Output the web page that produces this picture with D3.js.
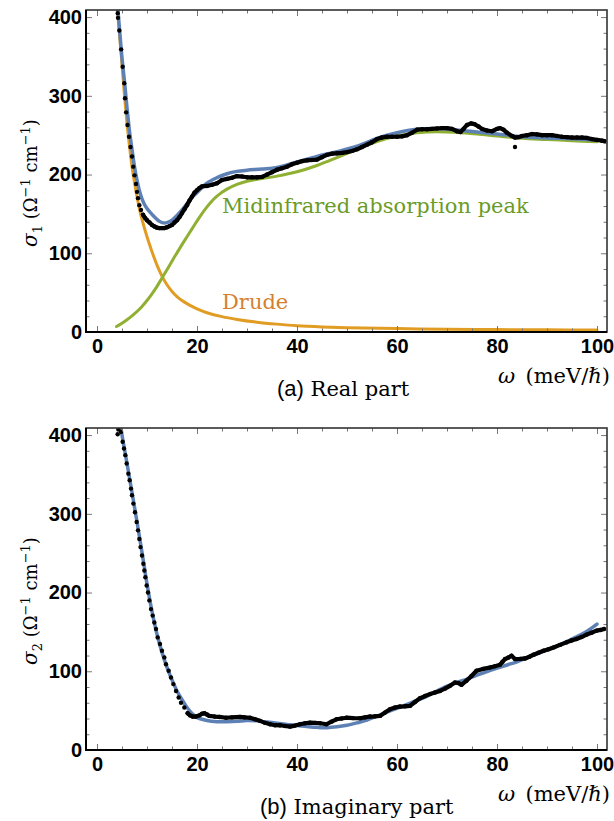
<!DOCTYPE html>
<html lang="en">
<head>
  <meta charset="UTF-8">
  <title>Optical conductivity</title>
  <script src="https://cdn.jsdelivr.net/npm/d3@7"></script>
  <style type="text/css" media="all">
    body { margin: 0; background: #fff; }
    .tick text {
      font-family: "Liberation Sans", Arial, sans-serif;
      font-weight: bold;
      font-size: 20px;
      fill: #000;
    }
    .tick line { stroke: #777; }
  </style>
</head>
<body>
  <svg id="chart" width="614" height="821"></svg>
  <script>
    // axis ticks
    var xTicks = [0, 20, 40, 60, 80, 100];
    var yTicks = [0, 100, 200, 300, 400];

    // (a) real part: measured sigma_1
    var realW = [4.15, 4.2, 4.47, 4.83, 5.13, 5.45, 5.6, 5.83, 6.1, 6.4, 6.7, 7.0, 7.25, 7.5, 7.8, 8.0, 8.2, 8.47, 8.8,
      9.2, 9.6, 10, 10.5, 11, 11.5, 12, 12.5, 13, 13.5, 14, 14.5, 15, 15.5, 16, 16.5, 17, 17.5, 18, 18.5, 19, 19.5,
      20, 20.5, 21, 22, 23, 24, 25, 26, 27, 28, 29, 30, 31, 32, 33, 34, 35, 36, 37, 38, 39, 40, 41, 42, 43, 44, 45,
      46, 47, 48, 49, 50, 51, 52, 53, 54, 55, 56, 57, 58, 59, 60, 61, 62, 63, 64, 65, 66, 67, 68, 69, 70, 71, 72,
      72.7, 73.3, 74, 74.8, 75.5, 76.3, 77, 78, 79, 80, 80.6, 81.3, 82, 83, 83.6, 84.3, 85, 86, 87, 88, 89, 90, 91,
      92, 93, 94, 95, 96, 97, 98, 99, 100, 101, 101.5];
    var realS = [405, 399, 383, 359, 337, 316, 297, 279, 263, 248, 235, 223, 210, 199, 188, 178, 170, 161, 155,
      149, 145, 142, 139, 136, 134, 132.5, 132, 132, 132, 133, 134.5, 136, 139, 142, 146, 151, 156, 161, 167, 172, 177,
      180, 183, 185, 185.5, 187, 189, 193, 194.5, 196, 198, 197.5, 196.5, 196.5, 196.5, 197, 200, 203, 206, 208, 210, 213, 215, 217, 218, 218.5, 219, 222,
      225, 226.5, 227, 227.5, 228.5, 230, 232, 235, 238, 241, 245, 247, 248, 248, 248, 248.5, 250, 253, 257, 257.5, 257.5, 258, 258.5, 259, 259, 258, 255,
      254, 258, 263, 265, 264, 261, 258, 256, 255, 258, 259, 257, 253, 249, 247, 247.5, 249, 250, 251.5, 251, 250, 250, 250,
      249, 248, 247.5, 247, 247, 247, 246.5, 245, 244, 243, 242.5];
    var realOutlierW = [83.6];
    var realOutlierS = [235];

    // (a) total fit
    var realFitW = [4.2, 4.5, 5, 5.5, 6, 6.5, 7, 7.5, 8, 8.5, 9, 9.5, 10, 10.5, 11, 11.5, 12, 12.5, 13, 13.5, 14, 15, 16,
      17, 18, 19, 20, 22, 24, 26, 28, 30, 33, 36, 40, 44, 48, 52, 56, 60, 64, 68, 72, 76, 80, 85, 90, 95, 100];
    var realFitS = [408, 385, 348, 318, 285, 255, 232, 210, 193, 179, 169, 162, 157, 153, 149.5, 146, 143, 140.5, 139, 138.5, 139, 142, 148,
      155, 163, 171, 177, 189, 196, 201, 204, 205.5, 207, 209, 216, 223, 229, 236, 246, 253, 257.5, 258.5, 256.5, 254, 251.5, 248, 246.5, 245.5, 243.5];

    // (a) Drude term
    var drudeW = [3.9, 4.2, 4.5, 5, 5.5, 6, 6.5, 7, 7.5, 8, 8.5, 9, 10, 11, 12, 13, 14, 15, 16, 17, 18, 19, 20, 22, 25, 28,
      32, 36, 40, 45, 50, 60, 70, 80, 90, 100];
    var drudeS = [415, 400, 378, 340, 300, 265, 236, 210, 190, 172, 156, 143, 121, 102, 85, 71, 60, 51.5, 45, 40, 36, 32.5, 29.5, 24.5, 19.5, 16,
      12.5, 10, 8, 6.5, 5.5, 4.3, 3.6, 3.1, 2.7, 2.4];

    // (a) midinfrared absorption peak
    var midIrW = [3.9, 5, 6, 7, 8, 9, 10, 11, 12, 13, 14, 15, 16, 17, 18, 19, 20, 21, 22, 23, 24, 25, 26, 28, 30, 33,
      36, 40, 44, 48, 52, 56, 60, 64, 68, 72, 76, 80, 85, 90, 95, 100];
    var midIrS = [7, 11, 15.5, 20.5, 26, 32.5, 40, 48.5, 58, 68.5, 79, 90, 100.5, 111, 121, 131, 141, 150.5, 159, 166.5, 172.5, 177.5, 181.5, 187.5, 191.5, 195,
      198, 203.5, 211.5, 221.5, 232, 242, 249, 253, 254.5, 253.5, 251.5, 249, 246, 244.5, 243, 241.5];

    // (b) imaginary part: measured sigma_2
    var imagW = [4.13, 4.27, 4.8, 5.13, 5.4, 5.67, 5.93, 6.27, 6.53, 6.8, 7.0, 7.27, 7.6, 7.93, 8.2, 8.47, 8.7, 9.0, 9.27,
      9.47, 9.67, 9.93, 10.2, 10.47, 10.8, 11.13, 11.47, 11.8, 12.13, 12.6, 13.0, 13.47, 13.8, 14.33, 14.8, 15.27, 15.8,
      16.33, 16.8, 17.47, 18.13, 18.6, 19.13, 19.8, 20.47, 21.0, 21.47, 22.0, 22.47, 23.5, 24.47, 25.8, 27, 28.6, 29.5,
      30.6, 31.6, 32.6, 33.6, 34.6, 35.6, 36.6, 37.6, 38.6, 39.6, 40.6, 41.6, 42.6, 43.6, 44.6, 45.9, 46.9, 47.9, 48.9,
      49.9, 51.2, 52.6, 53.6, 54.6, 55.6, 56.6, 57.6, 58.6, 59.6, 60.6, 61.6, 62.6, 63.6, 64.6, 65.6, 66.6, 67.6, 68.6,
      69.6, 70.6, 71.6, 72.3, 72.9, 73.9, 74.9, 75.9, 77.2, 78.6, 79.6, 80.6, 81.1, 81.6, 82.3, 82.9, 83.6, 84.6, 85.6,
      86.5, 87.3, 88.3, 89.3, 90.3, 91.3, 92.6, 93.9, 94.9, 95.9, 96.9, 97.9, 98.9, 99.9, 100.7, 101.4];
    var imagS = [401, 407, 404, 391.5, 383, 374.5, 364, 351, 342.7, 332, 323.6, 313, 302, 289.6, 279, 268, 257.7, 247, 236.5,
      228, 219.5, 209, 200, 190, 179, 170.7, 162, 153.7, 143, 134.6, 126, 117.6, 109, 100.6, 92, 83.7, 75,
      66.7, 60, 54, 46.7, 44, 42.5, 42.5, 44, 46, 46.7, 45, 43.3, 42.5, 42, 41, 41.5, 42, 41.5,
      41, 39, 37, 34.5, 32.7, 31.5, 31.4, 30.5, 29.7, 31, 32.7, 34, 34.8, 34.5, 34, 32.7, 36, 39, 40,
      41, 40.5, 40.3, 41.5, 42.5, 42.8, 43.3, 47.5, 51.8, 54, 55.2, 55.5, 56, 61, 65.8, 68.5, 71, 73, 75,
      78, 81.5, 85.7, 85, 82.8, 88, 94, 100.6, 103, 104.8, 106.5, 108.3, 112, 115.5, 117.5, 119.7, 115.5, 115.8, 116.3,
      118.5, 121, 123.5, 126, 128, 130.3, 133.5, 136.7, 139, 141, 143.5, 146.5, 149, 151.6, 152.5, 153.7];

    // (b) fit
    var imagFitW = [4.8, 5, 6, 7, 8, 9, 10, 11, 12, 13, 14, 15, 16, 17, 18, 19, 20, 22, 24, 26, 28, 30, 32, 34, 36, 38,
      40, 42, 44, 46, 48, 50, 52, 54, 56, 58, 60, 62, 64, 66, 68, 70, 72, 74, 76, 78, 80, 82, 84, 86, 88, 90, 92, 94,
      96, 98, 100];
    var imagFitS = [409, 400, 364, 327, 290, 251, 211, 176, 147, 124, 105, 89, 75, 64, 54, 46.5, 41.5, 37.5, 36, 36, 36.5, 37.5, 37, 35.5, 34, 32.5,
      31, 29.8, 28.8, 28.4, 29.5, 31.5, 34.5, 38, 43, 48, 53, 58, 63, 68.5, 75, 81, 86, 90, 95, 99.5, 104, 108, 112, 117, 122, 127, 132, 138,
      144, 151, 160];

    var left = 86, right = 607, height = 322;
    var blue = '#5E81B5', orange = '#E19C24', green = '#8FB032';
    var serif = '"DejaVu Serif", "Liberation Serif", serif';
    var sans = '"Liberation Sans", Arial, sans-serif';

    var svg = d3.select('#chart');

    var x = d3.scaleLinear().domain([-2.2, 102]).range([left, right]);
    var y = d3.scaleLinear().domain([0, 409]).range([height, 0]);

    var xMinor = d3.range(0, 101, 5).filter(function(d) { return d % 20 !== 0; });
    var yMinor = d3.range(0, 401, 20).filter(function(d) { return d % 100 !== 0; });

    function zip(ws, ss) {
      return ws.map(function(w, i) { return [w, ss[i]]; });
    }

    var line = d3.line()
      .x(function(d) { return x(d[0]); })
      .y(function(d) { return y(d[1]); });

    var smooth = d3.line()
      .curve(d3.curveCatmullRom.alpha(0.5))
      .x(function(d) { return x(d[0]); })
      .y(function(d) { return y(d[1]); });

    function drawAxes(g) {
      function clean(sel) { sel.select('.domain').remove(); }

      g.append('g').attr('transform', 'translate(0,' + height + ')')
        .call(d3.axisBottom(x).tickValues(xTicks).tickSize(-6).tickPadding(7).tickFormat(d3.format('d'))).call(clean);
      g.append('g').attr('transform', 'translate(0,' + height + ')')
        .call(d3.axisBottom(x).tickValues(xMinor).tickSize(-3.5).tickFormat('')).call(clean);
      g.append('g')
        .call(d3.axisTop(x).tickValues(xTicks).tickSize(-6).tickFormat('')).call(clean);
      g.append('g')
        .call(d3.axisTop(x).tickValues(xMinor).tickSize(-3.5).tickFormat('')).call(clean);

      g.append('g').attr('transform', 'translate(' + left + ',0)')
        .call(d3.axisLeft(y).tickValues(yTicks).tickSize(-6).tickPadding(4).tickFormat(d3.format('d'))).call(clean);
      g.append('g').attr('transform', 'translate(' + left + ',0)')
        .call(d3.axisLeft(y).tickValues(yMinor).tickSize(-3.5).tickFormat('')).call(clean);
      g.append('g').attr('transform', 'translate(' + right + ',0)')
        .call(d3.axisRight(y).tickValues(yTicks).tickSize(-6).tickFormat('')).call(clean);
      g.append('g').attr('transform', 'translate(' + right + ',0)')
        .call(d3.axisRight(y).tickValues(yMinor).tickSize(-3.5).tickFormat('')).call(clean);

      // frame
      g.append('rect')
        .attr('x', left).attr('y', 0)
        .attr('width', right - left).attr('height', height)
        .attr('fill', 'none').attr('stroke', '#333').attr('stroke-width', 1.6);
      g.append('path')
        .attr('d', 'M' + left + ',0V' + height + 'H' + right)
        .attr('fill', 'none').attr('stroke', '#000').attr('stroke-width', 2);
    }

    function drawData(g, pts, denseFrom) {
      var dense = pts.filter(function(d) { return d[0] >= denseFrom; });
      g.append('path')
        .attr('d', line(dense))
        .attr('fill', 'none').attr('stroke', '#000')
        .attr('stroke-width', 4.2).attr('stroke-linejoin', 'round').attr('stroke-linecap', 'round');
      g.selectAll(null).data(pts).enter().append('circle')
        .attr('cx', function(d) { return x(d[0]); })
        .attr('cy', function(d) { return y(d[1]); })
        .attr('r', 2.2).attr('fill', '#000');
    }

    function drawCurve(g, pts, color, width) {
      g.append('path')
        .attr('d', smooth(pts))
        .attr('fill', 'none').attr('stroke', color)
        .attr('stroke-width', width).attr('stroke-linecap', 'round');
    }

    function yLabel(g, sub) {
      // rotated, reads bottom to top; starts just below the sigma glyph
      var t = g.append('text')
        .attr('transform', 'translate(37,237) rotate(-90)')
        .style('font-family', serif)
        .style('font-size', '18px');
      t.append('tspan').style('font-style', 'italic').style('font-size', '20px').text('σ');
      t.append('tspan').attr('dy', 5).style('font-size', '13px').text(sub);
      t.append('tspan').attr('dy', -5).text(' (Ω');
      t.append('tspan').attr('dy', -7).style('font-size', '13px').text('−1');
      t.append('tspan').attr('dy', 7).text(' cm');
      t.append('tspan').attr('dy', -7).style('font-size', '13px').text('−1');
      t.append('tspan').attr('dy', 7).text(')');
    }

    function xLabel(g) {
      var t = g.append('text')
        .attr('x', 610).attr('y', 373)
        .attr('text-anchor', 'end')
        .style('font-family', serif)
        .style('font-size', '21px');
      t.append('tspan').style('font-style', 'italic').text('ω');
      t.append('tspan').text('\u2002(meV/ℏ)');
    }

    function caption(g, tag, words, cx) {
      var t = g.append('text').attr('x', cx).attr('y', 386).style('font-size', '22px');
      t.append('tspan').style('font-family', sans).text(tag);
      t.append('tspan').style('font-family', serif).style('font-size', '21px').text(' ' + words);
    }

    function panel(top, id) {
      var g = svg.append('g').attr('transform', 'translate(0,' + top + ')');
      g.append('clipPath').attr('id', id)
        .append('rect').attr('x', left).attr('y', 0).attr('width', right - left).attr('height', height);
      var plot = g.append('g').attr('clip-path', 'url(#' + id + ')');
      return { g: g, plot: plot };
    }

    // (a) real part
    var a = panel(10, 'clipA');
    drawCurve(a.plot, zip(drudeW, drudeS), orange, 3);
    drawCurve(a.plot, zip(midIrW, midIrS), green, 3);
    drawCurve(a.plot, zip(realFitW, realFitS), blue, 3.5);
    drawData(a.plot, zip(realW, realS), 9.0);
    drawData(a.plot, zip(realOutlierW, realOutlierS), 999);
    drawAxes(a.g);
    yLabel(a.g, '1');
    xLabel(a.g);
    caption(a.g, '(a)', 'Real part', 277);

    a.g.append('text')
      .attr('x', 222).attr('y', 203)
      .style('font-family', serif).style('font-size', '21px')
      .attr('fill', '#6B9B28')
      .text('Midinfrared absorption peak');
    a.g.append('text')
      .attr('x', 222).attr('y', 299)
      .style('font-family', serif).style('font-size', '21px')
      .attr('fill', '#D4812F')
      .text('Drude');

    // (b) imaginary part
    var b = panel(428, 'clipB');
    drawCurve(b.plot, zip(imagFitW, imagFitS), blue, 3.5);
    drawData(b.plot, zip(imagW, imagS), 17.5);
    drawAxes(b.g);
    yLabel(b.g, '2');
    xLabel(b.g);
    caption(b.g, '(b)', 'Imaginary part', 260);
  </script>
</body>
</html>
